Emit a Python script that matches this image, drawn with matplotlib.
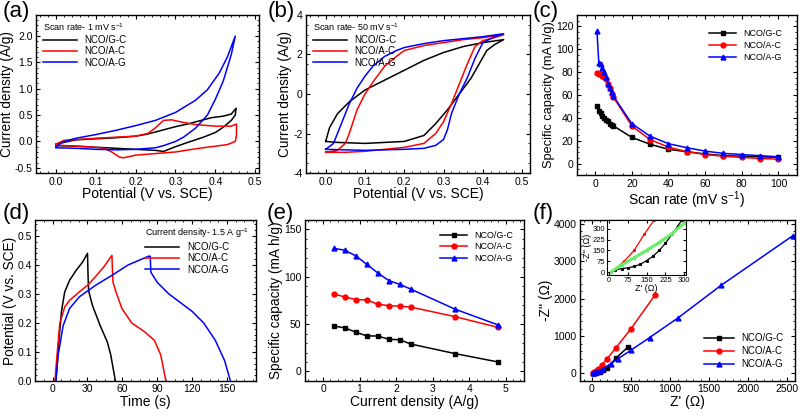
import matplotlib
import matplotlib.pyplot as plt

matplotlib.use('Agg')

plt.rcParams['font.family'] = ['Liberation Sans', 'DejaVu Sans']
plt.rcParams['mathtext.fontset'] = 'custom'
plt.rcParams['mathtext.rm'] = 'Liberation Sans'
plt.rcParams['axes.unicode_minus'] = False

names = ['NCO/G-C', 'NCO/A-C', 'NCO/A-G']
colors = ['black', 'red', 'blue']
markers = ['s', 'o', '^']

# (a) CV at 1 mV/s -- closed loops (anodic then cathodic)
a_gc_v = [0.0, 0.05, 0.1, 0.15, 0.2, 0.23, 0.26, 0.28, 0.3, 0.33, 0.36, 0.39, 0.42, 0.44, 0.452,
          0.45, 0.44, 0.42, 0.4, 0.37, 0.33, 0.3, 0.27, 0.25, 0.2, 0.15, 0.1, 0.05, 0.0]
a_gc_i = [-0.05, 0.03, 0.05, 0.07, 0.1, 0.14, 0.2, 0.24, 0.28, 0.33, 0.39, 0.45, 0.48, 0.52, 0.63,
          0.5, 0.4, 0.27, 0.17, 0.08, -0.02, -0.1, -0.19, -0.17, -0.15, -0.13, -0.11, -0.09, -0.08]
a_ac_v = [0.0, 0.02, 0.1, 0.2, 0.23, 0.25, 0.27, 0.29, 0.32, 0.35, 0.4, 0.44, 0.453,
          0.453, 0.45, 0.43, 0.4, 0.35, 0.3, 0.25, 0.2, 0.17, 0.16, 0.14, 0.12, 0.08, 0.0]
a_ac_i = [-0.05, 0.02, 0.06, 0.1, 0.15, 0.26, 0.4, 0.41, 0.36, 0.32, 0.29, 0.29, 0.33,
          0.12, 0.0, -0.06, -0.09, -0.14, -0.2, -0.23, -0.26, -0.31, -0.3, -0.2, -0.13, -0.1, -0.07]
a_ag_v = [0.0, 0.02, 0.05, 0.1, 0.15, 0.2, 0.25, 0.3, 0.35, 0.38, 0.41, 0.43, 0.45,
          0.44, 0.42, 0.4, 0.38, 0.35, 0.32, 0.3, 0.27, 0.25, 0.2, 0.15, 0.1, 0.05, 0.0]
a_ag_i = [-0.1, 0.0, 0.06, 0.13, 0.21, 0.3, 0.4, 0.55, 0.78, 0.98, 1.3, 1.6, 2.0,
          1.65, 1.15, 0.8, 0.5, 0.25, 0.08, 0.0, -0.08, -0.12, -0.15, -0.16, -0.15, -0.13, -0.12]

# (b) CV at 50 mV/s
b_gc_v = [0.0, 0.01, 0.03, 0.06, 0.1, 0.15, 0.2, 0.25, 0.3, 0.35, 0.4, 0.453,
          0.43, 0.41, 0.39, 0.37, 0.34, 0.31, 0.28, 0.25, 0.2, 0.1, 0.03, 0.0]
b_gc_i = [-2.4, -1.7, -1.0, -0.4, 0.2, 0.7, 1.2, 1.7, 2.1, 2.4, 2.6, 2.75,
          2.5, 2.2, 1.5, 0.8, 0.0, -0.8, -1.5, -2.1, -2.4, -2.5, -2.45, -2.4]
b_ac_v = [0.0, 0.03, 0.05, 0.06, 0.08, 0.1, 0.12, 0.15, 0.18, 0.2, 0.25, 0.3, 0.35, 0.4, 0.453,
          0.43, 0.4, 0.38, 0.36, 0.34, 0.32, 0.3, 0.28, 0.25, 0.2, 0.15, 0.1, 0.05, 0.0]
b_ac_i = [-2.95, -2.85, -2.5, -2.0, -0.8, 0.0, 0.6, 1.4, 1.9, 2.2, 2.45, 2.6, 2.75, 2.85, 3.0,
          2.85, 2.7, 2.4, 1.5, 0.5, -0.5, -1.4, -2.0, -2.5, -2.7, -2.8, -2.9, -2.95, -2.95]
b_ag_v = [0.0, 0.02, 0.04, 0.06, 0.08, 0.1, 0.12, 0.15, 0.18, 0.2, 0.25, 0.3, 0.35, 0.4, 0.453,
          0.43, 0.4, 0.38, 0.36, 0.34, 0.32, 0.31, 0.3, 0.28, 0.25, 0.2, 0.1, 0.0]
b_ag_i = [-2.8, -2.5, -1.5, -0.5, 0.3, 0.9, 1.4, 1.9, 2.2, 2.35, 2.55, 2.7, 2.8, 2.9, 3.05,
          2.9, 2.6, 1.8, 0.8, 0.0, -1.0, -1.8, -2.3, -2.6, -2.75, -2.8, -2.85, -2.8]

# (c) specific capacity vs scan rate
c_rate = [1, 2, 3, 4, 5, 6, 7, 8, 9, 10, 20, 30, 40, 50, 60, 70, 80, 90, 100]
c_gc = [50, 46, 44, 42, 40, 38, 37, 35, 34, 33, 23, 17, 12.5, 10.5, 8.5, 7, 6.5, 6, 5.5]
c_ac = [79, 78, 78, 77, 76, 74, 70, 66, 61, 58, 33, 21, 14.5, 10.5, 8, 6.5, 5.5, 4.5, 4]
c_ag = [116, 88, 87, 84, 80, 76, 70, 66, 63, 59, 35, 24, 17.5, 14, 11, 9, 8, 7, 6]

# (d) galvanostatic charge-discharge
d_gc_t = [2.8, 4.8, 7.6, 10.4, 14.6, 20, 25.8, 30, 30.5, 31, 34.3, 41, 47, 50, 54]
d_gc_v = [0.0, 0.11, 0.24, 0.307, 0.347, 0.38, 0.41, 0.44, 0.36, 0.31, 0.26, 0.19, 0.135, 0.09, 0.0]
d_ac_t = [2, 4, 6.2, 10.4, 14.6, 23, 30, 37, 44, 51, 51.5, 52, 54.5, 59.6, 68, 79, 87.6, 93, 97.5]
d_ac_v = [0.0, 0.1, 0.2, 0.255, 0.278, 0.307, 0.33, 0.36, 0.393, 0.433, 0.38, 0.34, 0.307, 0.25,
          0.2, 0.17, 0.14, 0.09, 0.0]
d_ag_t = [2.8, 4.8, 9, 14.6, 23, 37, 51, 65, 82.6, 84, 84.5, 90, 100, 110, 120, 130, 140, 148, 153]
d_ag_v = [0.0, 0.09, 0.19, 0.25, 0.29, 0.33, 0.364, 0.4, 0.43, 0.43, 0.375, 0.34, 0.3, 0.27,
          0.24, 0.2, 0.14, 0.07, 0.0]

# (e) specific capacity vs current density
e_cd = [0.3, 0.6, 0.9, 1.2, 1.5, 1.8, 2.1, 2.4, 3.6, 4.8]
e_gc = [48, 46, 41.5, 37.5, 37.5, 34, 33.5, 29, 19, 10]
e_ac = [82, 78.5, 76, 75.5, 71, 69.5, 69, 68, 58, 46.5]
e_ag = [130, 128, 122, 113, 104, 96, 92, 87, 66, 49]

# (f) Nyquist plots
f_gc_re = [10, 25, 50, 75, 100, 150, 200, 315, 460]
f_gc_im = [0, 15, 25, 30, 40, 80, 150, 420, 700]
f_ac_re = [10, 30, 50, 80, 130, 200, 310, 500, 810]
f_ac_im = [0, 30, 60, 130, 230, 400, 690, 1190, 2100]
f_ag_re = [10, 30, 60, 100, 150, 240, 340, 500, 740, 1100, 1650, 2570]
f_ag_im = [5, 20, 45, 75, 125, 260, 400, 620, 960, 1480, 2350, 3680]
# inset (low-frequency zoom)
in_gc_re = [10, 25, 50, 75, 100, 125, 150, 175, 200, 225, 250, 275, 290]
in_gc_im = [0, 15, 25, 30, 40, 55, 80, 110, 150, 200, 260, 320, 360]
in_ac_re = [10, 30, 60, 100, 140, 180]
in_ac_im = [0, 30, 75, 150, 260, 360]
in_ag_re = [10, 50, 100, 150, 200, 250, 300]
in_ag_im = [5, 50, 100, 150, 205, 265, 340]


def style(ax, xlabel, ylabel, ysize=9.8):
    ax.set_xlabel(xlabel, fontsize=10, labelpad=0.5)
    ax.set_ylabel(ylabel, fontsize=ysize, labelpad=0.5)
    ax.minorticks_on()
    ax.tick_params(which='both', direction='in', top=True, right=True, labelsize=7.5, pad=2.5)
    ax.tick_params(which='major', length=3, width=0.8)
    ax.tick_params(which='minor', length=1.5, width=0.6)
    for s in ax.spines.values():
        s.set_linewidth(1.0)


fig = plt.figure(figsize=(8, 4.15), dpi=100)
ax_a = fig.add_axes([0.045, 0.583, 0.279, 0.381])
ax_b = fig.add_axes([0.3825, 0.583, 0.28, 0.381])
ax_c = fig.add_axes([0.721, 0.578, 0.275, 0.386])
ax_d = fig.add_axes([0.044, 0.082, 0.276, 0.388])
ax_e = fig.add_axes([0.381, 0.082, 0.274, 0.388])
ax_f = fig.add_axes([0.725, 0.082, 0.269, 0.388])

# (a)
for v, i, n, c in zip([a_gc_v, a_ac_v, a_ag_v], [a_gc_i, a_ac_i, a_ag_i], names, colors):
    ax_a.plot(v, i, color=c, lw=1.1, label=n)
ax_a.set_xlim(-0.05, 0.51)
ax_a.set_ylim(-0.6, 2.4)
ax_a.set_xticks([0.0, 0.1, 0.2, 0.3, 0.4, 0.5])
ax_a.set_yticks([-0.5, 0.0, 0.5, 1.0, 1.5, 2.0])
style(ax_a, 'Potential (V vs. SCE)', 'Current density (A/g)')
ax_a.legend(loc='upper left', frameon=False, fontsize=7, title='Scan rate- 1 mV s$^{-1}$',
            title_fontsize=6.5, handlelength=3.5, labelspacing=0.15, alignment='left',
            borderaxespad=0.3)

# (b)
for v, i, n, c in zip([b_gc_v, b_ac_v, b_ag_v], [b_gc_i, b_ac_i, b_ag_i], names, colors):
    ax_b.plot(v, i, color=c, lw=1.1, label=n)
ax_b.set_xlim(-0.05, 0.52)
ax_b.set_ylim(-4, 4)
ax_b.set_xticks([0.0, 0.1, 0.2, 0.3, 0.4, 0.5])
ax_b.set_yticks([-4, -2, 0, 2, 4])
style(ax_b, 'Potential (V vs. SCE)', 'Current density (A/g)')
ax_b.legend(loc='upper left', frameon=False, fontsize=7, title='Scan rate- 50 mV s$^{-1}$',
            title_fontsize=6.5, handlelength=3.5, labelspacing=0.15, alignment='left',
            borderaxespad=0.3)

# (c)
for y, n, c, m in zip([c_gc, c_ac, c_ag], names, colors, markers):
    ax_c.plot(c_rate, y, color=c, marker=m, ms=3.5, lw=1.1, label=n)
ax_c.set_xlim(-10, 110)
ax_c.set_ylim(-10, 130)
ax_c.set_xticks(range(0, 101, 20))
ax_c.set_yticks(range(0, 121, 20))
style(ax_c, 'Scan rate (mV s$^{-1}$)', 'Specific capacity (mA h/g)', ysize=9.2)
ax_c.legend(loc='upper right', frameon=False, fontsize=6.5, handlelength=3,
            labelspacing=0.3, borderaxespad=1.2)

# (d)
for t, v, n, c in zip([d_gc_t, d_ac_t, d_ag_t], [d_gc_v, d_ac_v, d_ag_v], names, colors):
    ax_d.plot(t, v, color=c, lw=1.1, label=n)
ax_d.set_xlim(-15, 175)
ax_d.set_ylim(0, 0.555)
ax_d.set_xticks(range(0, 151, 30))
ax_d.set_yticks([0.0, 0.1, 0.2, 0.3, 0.4, 0.5])
style(ax_d, 'Time (s)', 'Potential (V vs. SCE)')
ax_d.legend(loc='upper right', frameon=False, fontsize=7, title='Current density- 1.5 A g$^{-1}$',
            title_fontsize=6.5, handlelength=3.5, labelspacing=0.15, alignment='left',
            borderaxespad=0.3)

# (e)
for y, n, c, m in zip([e_gc, e_ac, e_ag], names, colors, markers):
    ax_e.plot(e_cd, y, color=c, marker=m, ms=3.5, lw=1.1, label=n)
ax_e.set_xlim(-0.5, 5.5)
ax_e.set_ylim(-10, 160)
ax_e.set_xticks(range(0, 6))
ax_e.set_yticks([0, 50, 100, 150])
style(ax_e, 'Current density (A/g)', 'Specific capacity (mA h/g)')
ax_e.legend(loc='upper right', frameon=False, fontsize=6.5, handlelength=3,
            labelspacing=0.3, borderaxespad=0.8)

# (f)
for x, y, n, c, m in zip([f_gc_re, f_ac_re, f_ag_re], [f_gc_im, f_ac_im, f_ag_im],
                         names, colors, markers):
    ax_f.plot(x, y, color=c, marker=m, ms=3.5, lw=1.1, label=n)
ax_f.set_xlim(-150, 2600)
ax_f.set_ylim(-200, 4100)
ax_f.set_xticks(range(0, 2501, 500))
ax_f.set_yticks(range(0, 4001, 1000))
style(ax_f, "Z' (\u03a9)", "-Z'' (\u03a9)")
ax_f.legend(loc='lower right', frameon=False, fontsize=7, handlelength=3,
            labelspacing=0.3, borderaxespad=0.8)

ins = fig.add_axes([0.759, 0.337, 0.098, 0.133])
ins.plot(in_gc_re, in_gc_im, color='black', lw=0.9, marker='s', ms=1.2)
ins.plot(in_ac_re, in_ac_im, color='red', lw=0.9, marker='o', ms=1.2)
ins.plot(in_ag_re, in_ag_im, color='#66ee66', lw=2.2, marker='^', ms=1.5, mfc='#aaffaa')
ins.set_xlim(-7, 305)
ins.set_ylim(-20, 360)
ins.set_xticks([0, 75, 150, 225, 300])
ins.set_yticks([0, 75, 150, 225, 300])
ins.tick_params(direction='in', top=True, right=True, labelsize=5.5, length=2, pad=1.5)
ins.set_xlabel("Z' (\u03a9)", fontsize=6.5, labelpad=0)
ins.set_ylabel("-Z'' (\u03a9)", fontsize=6.5, labelpad=0)

for x, y, lab in [(0.003, 0.998, '(a)'), (0.335, 0.998, '(b)'), (0.666, 0.998, '(c)'),
                  (0.003, 0.51, '(d)'), (0.333, 0.51, '(e)'), (0.666, 0.51, '(f)')]:
    fig.text(x, y, lab, fontsize=16, va='top', ha='left')

fig.savefig('out.png', dpi=100)
